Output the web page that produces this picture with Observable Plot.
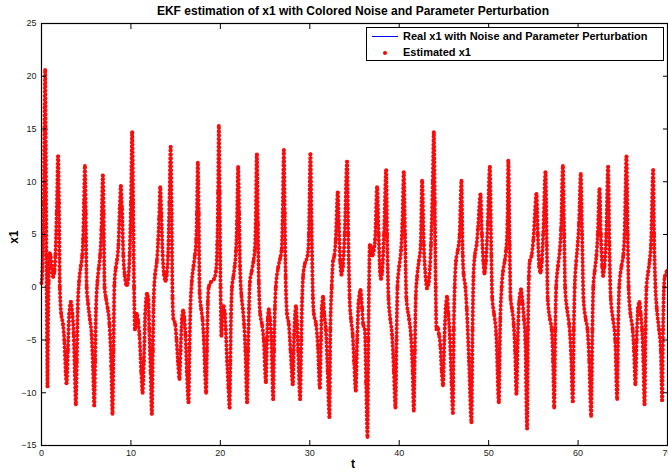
<!DOCTYPE html>
<html><head><meta charset="utf-8">
<script src="https://cdn.jsdelivr.net/npm/d3@7"></script>
<script src="https://cdn.jsdelivr.net/npm/@observablehq/plot@0.6"></script>
<style>
body{margin:0;background:#fff;}
#wrap{position:relative;width:668px;height:473px;font-family:"Liberation Sans",Arial,sans-serif;color:#000;}
#wrap svg{position:absolute;left:0;top:0;}
#title{position:absolute;left:0;width:706px;top:4px;text-align:center;font-weight:bold;font-size:12px;line-height:14px;}
#xlab{position:absolute;left:346px;width:14px;top:457px;text-align:center;font-weight:bold;font-size:12px;line-height:14px;}
#ylab{position:absolute;left:-1px;top:230px;width:30px;text-align:center;font-weight:bold;font-size:12px;line-height:14px;transform:rotate(-90deg);}
#legend{position:absolute;left:366px;top:27px;width:296px;height:32px;border:1px solid #000;background:#fff;font-weight:bold;font-size:11px;}
#legend .row{position:absolute;left:36px;line-height:13px;white-space:nowrap;}
#legend .ln{position:absolute;left:5px;width:26px;height:0;border-top:1px solid #0000ff;top:8px;}
#legend .dt{position:absolute;left:16px;top:23px;width:4px;height:4px;border-radius:2px;background:#ff0000;}
</style></head>
<body>
<div id="wrap">
  <div id="title">EKF estimation of x1 with Colored Noise and Parameter Perturbation</div>
  <div id="xlab">t</div>
  <div id="ylab">x1</div>
  <div id="legend">
    <div class="ln"></div><div class="row" style="top:2px">Real x1 with Noise and Parameter Perturbation</div>
    <div class="dt"></div><div class="row" style="top:18px">Estimated x1</div>
  </div>
</div>
<script>
const xTicks = [0, 10, 20, 30, 40, 50, 60, 70];
const yTicks = [-15, -10, -5, 0, 5, 10, 15, 20, 25];
const t = [0,0.1,0.25,0.35,0.41,0.47,0.55,0.62,0.67,0.72,0.8,0.9,1.0,1.15,1.3,1.45,1.55,1.7,1.86,1.95,2.05,2.2,2.4,2.55,2.7,2.8,2.95,3.1,3.28,3.45,3.6,3.72,3.84,3.95,4.05,4.2,4.4,4.55,4.65,4.75,4.85,4.95,5.05,5.2,5.4,5.6,5.75,5.9,6.0,6.1,6.25,6.4,6.55,6.7,6.86,6.95,7.05,7.2,7.4,7.6,7.8,7.94,8.05,8.15,8.3,8.45,8.6,8.75,8.87,9.0,9.15,9.3,9.45,9.55,9.7,9.85,10.0,10.14,10.25,10.35,10.45,10.55,10.65,10.8,10.95,11.15,11.3,11.45,11.6,11.8,11.95,12.05,12.2,12.34,12.45,12.55,12.7,12.9,13.05,13.15,13.28,13.4,13.55,13.7,13.87,14.0,14.15,14.3,14.44,14.55,14.65,14.75,14.95,15.1,15.25,15.43,15.55,15.7,15.84,15.98,16.1,16.25,16.44,16.55,16.65,16.8,17.0,17.15,17.3,17.38,17.48,17.58,17.68,17.85,18.0,18.15,18.28,18.41,18.5,18.6,18.7,18.95,19.3,19.5,19.65,19.75,19.83,19.92,20.02,20.12,20.22,20.35,20.5,20.6,20.75,20.9,21.03,21.12,21.2,21.3,21.45,21.6,21.75,21.85,21.99,22.1,22.2,22.35,22.5,22.65,22.8,22.99,23.1,23.2,23.3,23.5,23.7,23.85,23.95,24.08,24.2,24.3,24.45,24.65,24.85,25.09,25.22,25.3,25.42,25.55,25.7,25.91,26.0,26.1,26.2,26.45,26.7,26.85,26.95,27.1,27.2,27.3,27.45,27.65,27.85,28.1,28.25,28.45,28.58,28.7,28.92,29.05,29.15,29.25,29.45,29.75,29.9,30.07,30.2,30.35,30.45,30.7,30.9,31.12,31.25,31.35,31.49,31.62,31.8,32.0,32.2,32.3,32.45,32.6,32.75,32.9,33.13,33.25,33.4,33.54,33.7,33.9,34.17,34.3,34.45,34.6,34.8,34.95,35.14,35.3,35.45,35.67,35.85,35.97,36.15,36.3,36.45,36.55,36.62,36.7,36.85,37.0,37.15,37.3,37.53,37.7,37.85,37.95,38.1,38.3,38.54,38.65,38.8,39.0,39.2,39.4,39.58,39.7,39.8,40.0,40.2,40.35,40.51,40.65,40.8,41.1,41.3,41.5,41.63,41.75,41.85,42.0,42.2,42.4,42.56,42.75,42.95,43.1,43.3,43.55,43.75,43.87,43.98,44.08,44.16,44.3,44.45,44.6,44.75,44.9,45.05,45.2,45.35,45.5,45.65,45.85,46.0,46.1,46.2,46.35,46.55,46.75,46.96,47.1,47.2,47.4,47.55,47.8,48.08,48.2,48.3,48.45,48.65,48.8,49.09,49.25,49.4,49.53,49.7,49.9,50.13,50.3,50.4,50.6,50.85,51.14,51.3,51.45,51.6,51.8,51.95,52.1,52.2,52.35,52.45,52.6,52.8,52.95,53.11,53.25,53.4,53.63,53.8,53.95,54.1,54.3,54.4,54.5,54.6,54.8,55.0,55.35,55.5,55.65,55.8,55.95,56.1,56.36,56.5,56.6,56.85,57.05,57.2,57.33,57.45,57.55,57.75,57.95,58.1,58.3,58.45,58.55,58.75,59.0,59.2,59.41,59.52,59.62,59.8,59.95,60.1,60.3,60.45,60.6,60.85,61.05,61.25,61.46,61.6,61.7,61.85,62.05,62.2,62.4,62.55,62.7,62.8,62.95,63.15,63.36,63.5,63.65,63.9,64.15,64.37,64.5,64.6,64.85,65.05,65.2,65.41,65.55,65.65,65.85,66.1,66.25,66.41,66.55,66.7,66.86,67.0,67.15,67.3,67.43,67.55,67.65,67.85,68.0,68.15,68.4,68.5,68.65,68.8,69.05,69.25,69.4,69.5,69.6,69.7,70];
const x1 = [0.4,1.5,8,17,20.6,15,3,-5,-9.4,-5,0.5,3.2,3.1,1.8,1.0,1.5,3.0,7,12.4,8,0,-2.5,-3.5,-5,-8,-9.1,-6,-2.5,-1.4,-2.5,-4.5,-8,-11.1,-7,-2,0.5,2,3,4.5,8,11.5,7,0,-1.5,-3,-4.5,-7.5,-11.2,-7,-2,0.5,1.8,3,5.5,10.6,7,0,-1,-2,-3.5,-7.5,-12,-6,0.2,1.8,2.6,4,7.5,9.6,7.5,3,1.2,0.3,0.2,0.8,3,8,14.7,8,0,-4,-3.5,-2.5,-3.2,-4.5,-8,-10,-7,-2.5,-0.6,-1.2,-4,-8,-12,-6,-1,1.2,2.5,4.5,6.5,9.5,7,3,1.2,0.6,1.2,3,8,13.3,7,-1,-3,-3.5,-5,-7,-8.7,-6,-3,-2.2,-3,-4.5,-8,-10.9,-6,-2,0.5,2,3,4.5,7,11.8,7,-0.5,-2,-3,-5,-8,-10,-6,-1.5,0,0.5,0.8,1.5,4,9,15.3,9,0,-4.6,-2.5,-1.8,-2.5,-4,-7,-9.5,-11.4,-7,-2.5,0,1,2,3.5,6,11.4,7,2,-0.7,-2,-3.5,-6,-10.9,-6,-2,0.5,1.5,2.5,3.5,6,12.6,6,0.5,-2.5,-3.5,-5,-9,-5,-3,-2.1,-3,-5,-10.6,-6,-2,0,1.8,2.8,3.5,6,13,7,1,-2.5,-3.5,-6,-9.2,-4.5,-1.8,-3.5,-6,-10.6,-5,-1,1,2.2,3,5,12.6,6,-1,-2.5,-3.5,-5.5,-9.5,-5,-2,-0.9,-2.5,-4,-8,-12.3,-4,0,2.5,3,4.5,9,6,2.5,1.2,2,5,11.9,5,-1,-3,-4.5,-7,-9.8,-5,-1.5,-0.25,-2,-3.5,-4,-9,-14.2,-5,0,4,3.8,3.0,3.5,4.5,9.5,5,1.5,0.8,1.5,5,11.1,5,-1,-3,-4.5,-8,-11.4,-5,0,2,3.5,6,10.9,5,-1,-3,-4.5,-8,-11.7,-6,-1,1,2.5,4,10.1,4,1,-0.1,0.5,4,10,14.7,8,0,-4,-3.8,-4.5,-5.5,-8,-9.3,-5,-2,-0.9,-2.5,-4.5,-9,-11.9,-4,0,2.5,3.5,5,10.1,3,1.3,0,-2,-7,-12.8,-4,1,3,4,5.5,8.8,5,2.5,1.3,2.5,6,11.4,3,-1,-2.5,-4.5,-10.9,-3,0,1.5,2.5,3.5,6,12.0,4,-1,-2,-3.5,-6,-10.1,-5,-1.5,-0.2,-1.5,-3,-5,-13.4,-4,1,2.5,3,4.5,8.85,5,2,1.4,2.5,5,10.9,4,-1,-3,-4,-7,-11.4,-4,0,2,3.5,5.5,11.5,5,0,-2,-3.5,-6,-10.8,-4,0,2.5,4,6,10.75,5,-1,-3,-4,-7,-12.2,-4,0,1.5,3,5,9.3,5,2,1.1,2,5,11.4,4,-1,-3,-5,-10.6,-3,0,2,3,5,12.4,5,0,-2.5,-4,-6,-9.2,-5,-2,-1.4,-2.5,-4,-7,-11.1,-4,0,1.5,2.5,4,11.1,5,0,-2,-4,-6,-10.7,-4,0,1.0,1.6];
const data = t.map((ti, i) => ({t: ti, v: x1[i]}));

const chart = Plot.plot({
  width: 668, height: 473,
  marginTop: 23, marginBottom: 28, marginLeft: 41, marginRight: 1,
  x: {domain: [0, 70]},
  y: {domain: [-15, 25]},
  style: {fontFamily: "Liberation Sans, Arial, sans-serif", fontSize: "9px", color: "#222", background: "#fff"},
  marks: [
    Plot.line(data, {x: "t", y: "v", stroke: "#0000ff", strokeWidth: 1.2, curve: "monotone-x"}),
    Plot.line(data, {x: "t", y: "v", stroke: "#ff0a0a", strokeWidth: 4, strokeDasharray: "0 3.9", strokeLinecap: "round", curve: "monotone-x"}),
    Plot.dot(data, {x: "t", y: "v", r: 1.9, fill: "#ff0a0a"}),
    Plot.axisX(xTicks, {anchor: "bottom", tickSize: 0, tickPadding: 4, label: null}),
    Plot.axisX(xTicks, {anchor: "bottom", tickSize: 5, dy: -5, fill: "none", stroke: "#000", label: null}),
    Plot.axisX(xTicks, {anchor: "top", tickSize: 5, dy: 5, fill: "none", stroke: "#000", label: null}),
    Plot.axisY(yTicks, {anchor: "left", tickSize: 0, tickPadding: 5, label: null}),
    Plot.axisY(yTicks, {anchor: "left", tickSize: 5, dx: 5, fill: "none", stroke: "#000", label: null}),
    Plot.axisY(yTicks, {anchor: "right", tickSize: 5, dx: -5, fill: "none", stroke: "#000", label: null}),
    Plot.frame({stroke: "#000", strokeWidth: 1.2})
  ]
});
document.getElementById("wrap").prepend(chart);
</script>
</body></html>
